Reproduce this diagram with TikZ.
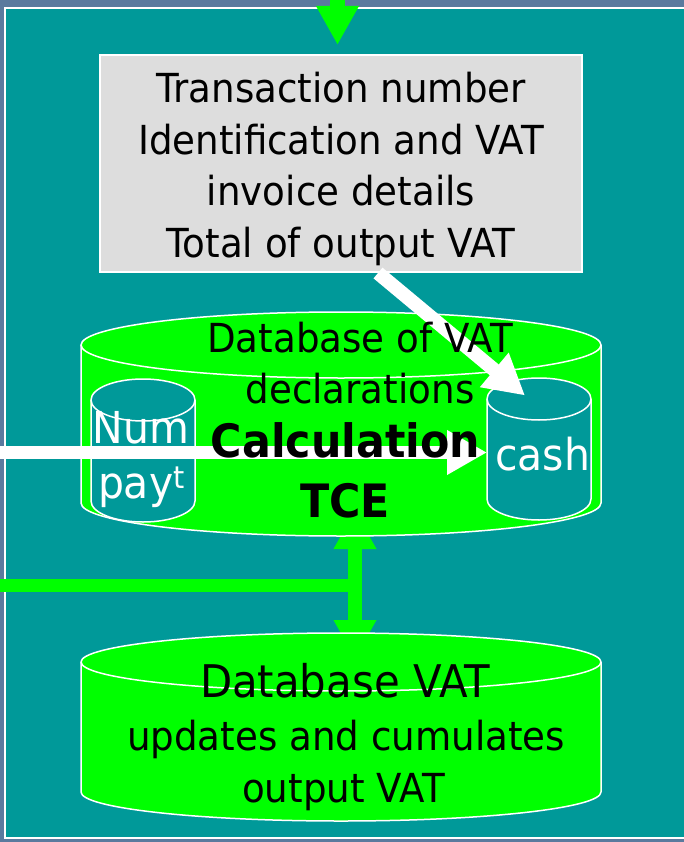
\documentclass[tikz,border=0pt]{standalone}
\usepackage{fontspec}
\setmainfont{DejaVu Sans}[FakeStretch=0.93]
\usetikzlibrary{arrows.meta}
\definecolor{slidebg}{HTML}{5A7A9E}
\definecolor{tealbg}{HTML}{009999}
\definecolor{vgreen}{HTML}{00FF00}
\definecolor{boxgray}{HTML}{DDDDDD}
\newcommand{\mycyl}[6]{% cx, rx, top y, bottom y, ry, fill
  \path[cylbody, fill=#6] (#1-#2,#3) -- (#1-#2,#4)
    arc[start angle=180, end angle=0, x radius=#2, y radius=#5]
    -- (#1+#2,#3)
    arc[start angle=0, end angle=-180, x radius=#2, y radius=#5] -- cycle;
  \draw[cylline] (#1-#2,#3) arc[start angle=180, end angle=0, x radius=#2, y radius=#5];}
\tikzset{
  cylbody/.style={draw=white, line width=1.5pt},
  cylline/.style={draw=white, line width=1.5pt},
  bigtip/.style={Triangle[length=39pt, width=40pt]},
  greenarrow/.style={draw=vgreen, line width=#1, -{Triangle[length=39pt, width=40pt]}},
  whitearrow/.style={draw=white, line width=#1, -{Triangle[length=40pt, width=42pt]}},
  lbl/.style={anchor=base, inner sep=0pt, text=black},
  reg/.style={lbl, font=\fontsize{40}{48}\selectfont},
  big/.style={lbl, font=\fontsize{45}{54}\selectfont},
  bld/.style={lbl, font=\fontsize{46}{55}\selectfont\bfseries},
  wht/.style={lbl, text=white, font=\fontsize{44}{52}\selectfont},
  hold/.style={inner sep=0pt, outer sep=0pt, draw=none}
}
\begin{document}
\begin{tikzpicture}[x=1pt, y=-1pt]
\useasboundingbox (0,0) rectangle (684,842);
% slide background and panel
\fill[slidebg] (0,0) rectangle (684,842);
\fill[tealbg] (5,8) rectangle (684,838);
\draw[white, line width=1.5pt] (684,8) -- (5,8) -- (5,838) -- (684,838);

% anchors for connectors
\coordinate (gtop) at (337.5,0);
\coordinate (gtip) at (337.5,45);
\coordinate (gv1) at (355,510);
\coordinate (gv2) at (355,659);
\coordinate (gleft) at (0,585);
\coordinate (wleft) at (0,452.5);

% incoming green arrow
\draw[greenarrow=15pt] (gtop) -- (gtip);

% grey box
\node[draw=white, line width=2pt, fill=boxgray, minimum width=482pt, minimum height=217pt, inner sep=0pt] (box) at (341,163.5) {};

% green links (behind the cylinders)
\draw[vgreen, line width=13pt] (gleft) -- (gleft -| gv1);
\draw[draw=vgreen, line width=14pt, {Triangle[length=39pt, width=40pt]}-{Triangle[length=39pt, width=40pt]}] (gv1) -- (gv2);

% big cylinders
\mycyl{341}{260}{345}{503}{33}{vgreen}
\node[hold, minimum width=520pt, minimum height=224pt] (db1) at (341,424) {};
\mycyl{341}{260}{662}{792}{29}{vgreen}
\node[hold, minimum width=520pt, minimum height=188pt] (db2) at (341,727) {};

% small cylinders
\mycyl{143}{52}{400}{501}{21}{tealbg}
\node[hold, minimum width=104pt, minimum height=143pt] (num) at (143,450.5) {};
\mycyl{539}{52}{399}{499}{21}{tealbg}
\node[hold, minimum width=104pt, minimum height=143pt] (cash) at (539,449) {};

% white arrows
\draw[whitearrow=14pt] ([xshift=37pt]box.south) -- ([xshift=-14pt, yshift=-18pt]cash.north);
\draw[whitearrow=13pt] (wleft) -- (wleft -| cash.west);

% texts
\node[reg] (t1) at (341,103) {Transaction number};
\node[reg] (t2) at (341,154.5) {Identification and VAT};
\node[reg] (t3) at (341,206) {invoice details};
\node[reg] (t4) at (341,257) {Total of output VAT};

\node[reg] (d1) at (360,352) {Database of VAT};
\node[reg] (d2) at (360,403) {declarations};
\node[bld] (c1) at (345.5,457) {Calculation};
\node[bld] (c2) at (345,517) {TCE};

\node[wht] (n1) at (141,443) {Num};
\node[wht] (n2) at (141.5,498) {pay\textsuperscript{t}};
\node[wht] (k1) at (542.5,470) {cash};

\node[big] (b1) at (345,697) {Database VAT};
\node[reg] (b2) at (346,750) {updates and cumulates};
\node[reg] (b3) at (343.5,802) {output VAT};
\end{tikzpicture}
\end{document}
